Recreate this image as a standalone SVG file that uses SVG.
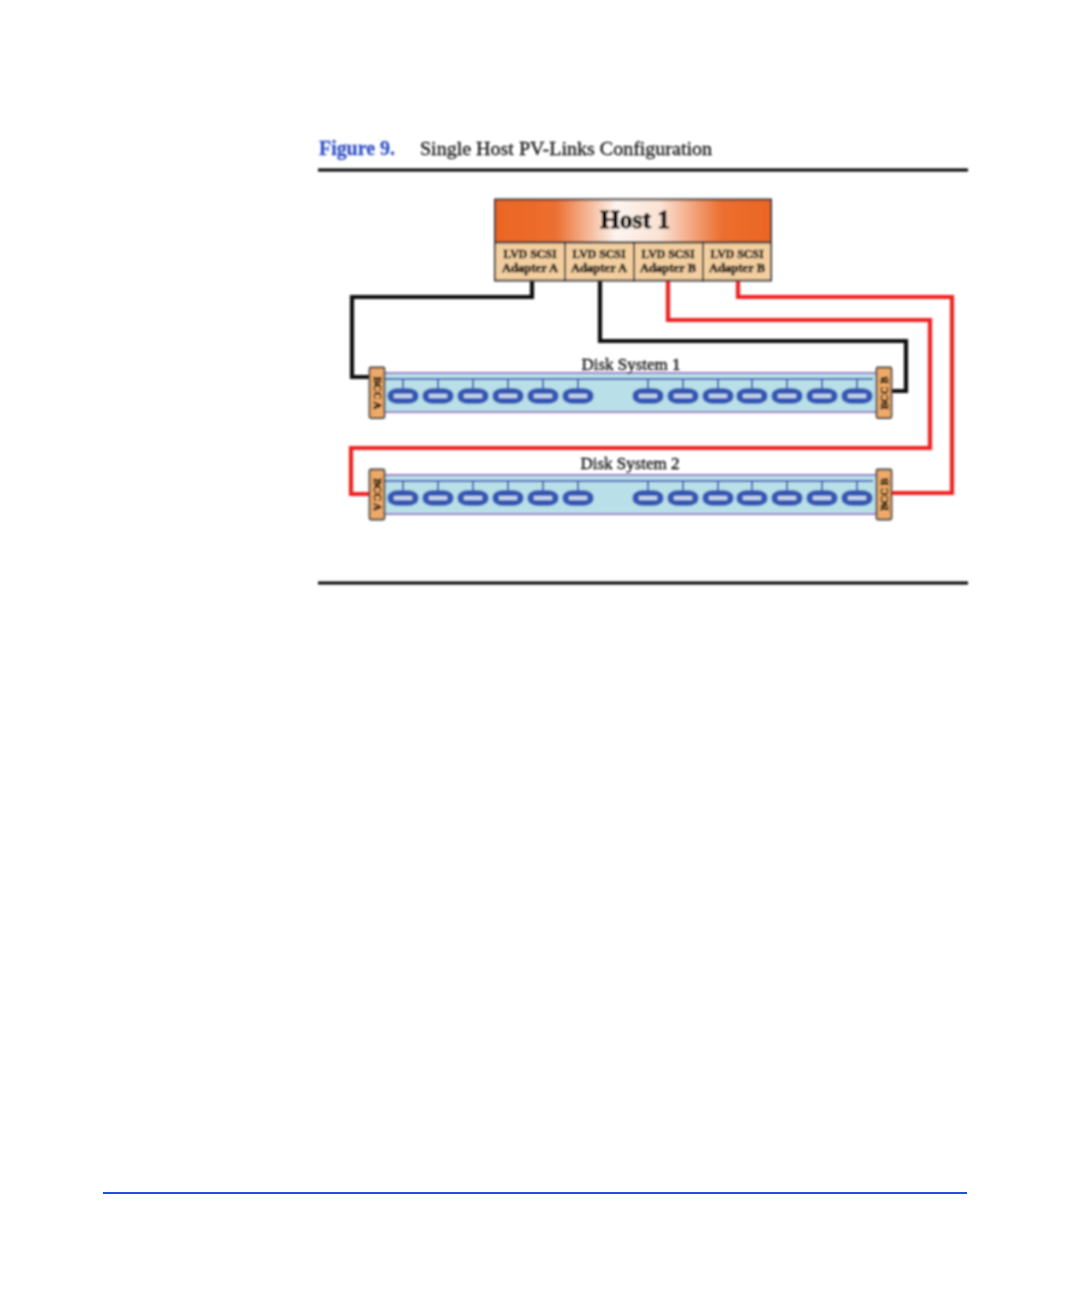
<svg xmlns="http://www.w3.org/2000/svg" width="1080" height="1296" viewBox="0 0 1080 1296">
<style>
text{font-family:"Liberation Serif","Times New Roman",serif;fill:#111;stroke:#111;stroke-width:0.3}
.ad{font-size:11.800px;font-weight:bold;text-anchor:middle;stroke-width:0.6}
.ad2{font-size:12.600px}
.bcc{font-size:10.800px;font-weight:bold;text-anchor:middle;stroke-width:0.6}
.ds{font-size:17px;text-anchor:middle;stroke-width:0.4}
.adbox{fill:#f3cfa0;stroke:#3a3a3a;stroke-width:2}
.bccbox{fill:#eeaa68;stroke:#444;stroke-width:1.8}
.wire{fill:none;stroke-width:4.2;stroke-linejoin:miter}
.bus{fill:none;stroke:#3558b5;stroke-width:2}
</style>
<defs>
<filter id="soft" filterUnits="userSpaceOnUse" x="0" y="0" width="1080" height="1296"><feGaussianBlur stdDeviation="0.8"/></filter>
<linearGradient id="hostfill"><stop offset="0" stop-color="#ea6522"/><stop offset="0.22" stop-color="#ec6f30"/><stop offset="0.44" stop-color="#fdf5f0"/><stop offset="0.6" stop-color="#fbe2d4"/><stop offset="0.82" stop-color="#ec6f30"/><stop offset="1" stop-color="#ea6522"/></linearGradient>
<g id="disk"><rect x="-15.500" y="-8" width="31" height="16" rx="11" ry="6.500" fill="#3558b5"/><rect x="-9" y="-2" width="18" height="4" fill="#c4d4ea"/></g>
<g id="rack">
<rect x="384" y="0" width="493" height="39" fill="#b9e0e8" stroke="#9a7cc6" stroke-width="2"/>
<path class="bus" d="M384 6H873M403 6V16M438 6V16M473 6V16M508 6V16M543 6V16M578 6V16M648 6V16M683 6V16M718 6V16M752 6V16M787 6V16M822 6V16M857 6V16"/>
<use href="#disk" x="403" y="23"/><use href="#disk" x="438" y="23"/><use href="#disk" x="473" y="23"/><use href="#disk" x="508" y="23"/><use href="#disk" x="543" y="23"/><use href="#disk" x="578" y="23"/>
<use href="#disk" x="648" y="23"/><use href="#disk" x="683" y="23"/><use href="#disk" x="718" y="23"/><use href="#disk" x="752" y="23"/><use href="#disk" x="787" y="23"/><use href="#disk" x="822" y="23"/><use href="#disk" x="857" y="23"/>
</g>
</defs>
<rect width="1080" height="1296" fill="#fff"/>
<path id="footer-rule" d="M103 1193H967" stroke="#1f4fe0" stroke-width="2" fill="none"/>
<g filter="url(#soft)">
<g id="caption">
<text x="319" y="155" font-size="19.900" font-weight="bold" style="fill:#3553c4;stroke:#3553c4">Figure 9.</text>
<text x="420" y="155" font-size="19.500" textLength="292" lengthAdjust="spacingAndGlyphs">Single Host PV-Links Configuration</text>
</g>
<g id="rules">
<path d="M318 170H968M318 583H968" stroke="#000" stroke-width="3" fill="none"/>
</g>
<g id="connectors">
<path class="wire" stroke="#111" d="M532 281V297H352V377H370"/>
<path class="wire" stroke="#111" d="M600 281V341H906V391H891"/>
<path class="wire" stroke="#ee2020" d="M668 281V320H930V448H351V494H370"/>
<path class="wire" stroke="#ee2020" d="M738 281V297H952V493H891"/>
</g>
<g id="host1">
<rect x="495" y="199.500" width="276" height="43" fill="url(#hostfill)" stroke="#3a3a3a" stroke-width="2"/>
<text x="635" y="228" font-size="25.500" font-weight="bold" text-anchor="middle" style="stroke-width:0.9">Host 1</text>
</g>
<g id="adapter1"><rect class="adbox" x="495" y="242.500" width="70" height="38"/><text class="ad" x="530" y="258">LVD SCSI</text><text class="ad ad2" x="530" y="272">Adapter A</text></g>
<g id="adapter2"><rect class="adbox" x="565" y="242.500" width="69" height="38"/><text class="ad" x="599" y="258">LVD SCSI</text><text class="ad ad2" x="599" y="272">Adapter A</text></g>
<g id="adapter3"><rect class="adbox" x="634" y="242.500" width="69" height="38"/><text class="ad" x="668" y="258">LVD SCSI</text><text class="ad ad2" x="668" y="272">Adapter B</text></g>
<g id="adapter4"><rect class="adbox" x="703" y="242.500" width="68" height="38"/><text class="ad" x="737" y="258">LVD SCSI</text><text class="ad ad2" x="737" y="272">Adapter B</text></g>
<g id="disk-system-1">
<use href="#rack" y="373"/>
<text class="ds" x="631" y="370">Disk System 1</text>
<rect class="bccbox" x="369.500" y="367.500" width="15" height="50.500" rx="1.500"/>
<text class="bcc" transform="translate(373.500 393) rotate(90)">BCC A</text>
<rect class="bccbox" x="876.500" y="367.500" width="15" height="50.500" rx="1.500"/>
<text class="bcc" transform="translate(887.500 393) rotate(-90)">BCC B</text>
</g>
<g id="disk-system-2">
<use href="#rack" y="475"/>
<text class="ds" x="630" y="469">Disk System 2</text>
<rect class="bccbox" x="369.500" y="469.500" width="15" height="50" rx="1.500"/>
<text class="bcc" transform="translate(373.500 494.500) rotate(90)">BCC A</text>
<rect class="bccbox" x="876.500" y="469.500" width="15" height="50" rx="1.500"/>
<text class="bcc" transform="translate(887.500 494.500) rotate(-90)">BCC B</text>
</g>
</g>
</svg>
